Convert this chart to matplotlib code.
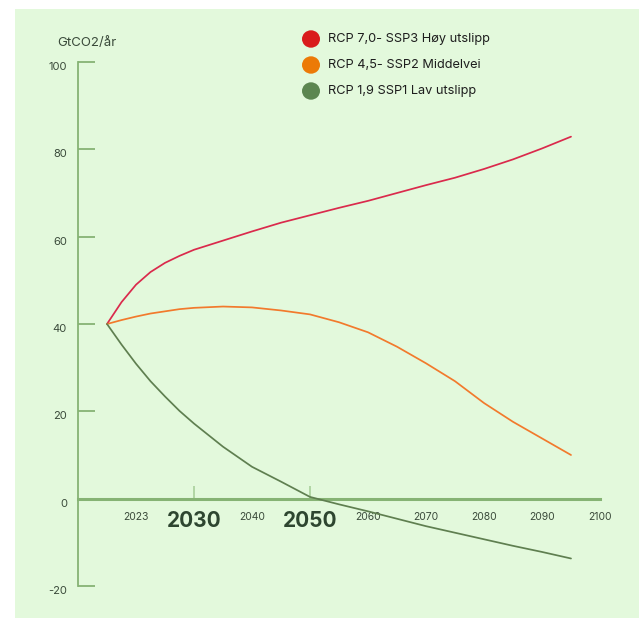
import matplotlib
matplotlib.use("Agg")
import matplotlib.pyplot as plt
from matplotlib.patches import Rectangle, Circle

plt.rcParams['font.family'] = ['Inter', 'DejaVu Sans']

years = [2015, 2017.5, 2020, 2022.5, 2025, 2027.5, 2030, 2035, 2040, 2045, 2050, 2055, 2060,
         2065, 2070, 2075, 2080, 2085, 2090, 2095]
rcp70 = [40, 45.0, 49.0, 51.9, 54.0, 55.6, 57.0, 59.1, 61.2, 63.2, 64.9, 66.6, 68.2,
         70.0, 71.8, 73.5, 75.5, 77.7, 80.2, 82.9]
rcp45 = [40, 40.9, 41.7, 42.4, 42.9, 43.4, 43.7, 44.0, 43.8, 43.1, 42.2, 40.4, 38.1,
         34.8, 31.0, 26.9, 21.9, 17.6, 13.8, 10.0]
rcp19 = [40, 35.3, 30.9, 26.9, 23.4, 20.1, 17.2, 11.9, 7.3, 3.9, 0.4, -1.3, -2.9,
         -4.6, -6.3, -7.8, -9.3, -10.8, -12.2, -13.7]

series_names = ["RCP 7,0- SSP3 Høy utslipp", "RCP 4,5- SSP2 Middelvei", "RCP 1,9 SSP1 Lav utslipp"]
line_colors = ["#DA2A4C", "#F27A2C", "#5F7F50"]
legend_colors = ["#D91C1C", "#EC7A07", "#5C8650"]

x_tick_pos = [2020, 2030, 2040, 2050, 2060, 2070, 2080, 2090, 2100]
x_tick_labels = ["2023", "2030", "2040", "2050", "2060", "2070", "2080", "2090", "2100"]
x_bold = ["2030", "2050"]
y_ticks = [-20, 0, 20, 40, 60, 80, 100]
y_label = "GtCO2/år"

W, H = 639, 618
fig = plt.figure(figsize=(W / 100, H / 100), dpi=100)
fig.patch.set_facecolor("white")
bg = "#E3F9DC"
fig.patches.append(Rectangle((15 / W, 0), 1 - 15 / W, 1 - 9 / H, transform=fig.transFigure,
                             facecolor=bg, edgecolor="none", zorder=-10))

ax = fig.add_axes([78 / W, 1 - 586 / H, (600 - 78) / W, (586 - 62) / H])
ax.set_zorder(5)
ax.set_facecolor("none")
ax.patch.set_alpha(0)
ax.set_xlim(2010, 2100)
ax.set_ylim(-20, 100)

axis_col = "#86B374"
text_col = "#3A4A3A"
for s in ["top", "right"]:
    ax.spines[s].set_visible(False)
ax.spines["left"].set_color(axis_col)
ax.spines["left"].set_linewidth(1.3)
ax.spines["bottom"].set_position(("data", 0))
ax.spines["bottom"].set_color(axis_col)
ax.spines["bottom"].set_linewidth(2.2)

ax.set_yticks(y_ticks)
ax.set_yticklabels([str(v) for v in y_ticks])
ax.tick_params(axis="y", direction="in", length=12, width=1.3, color=axis_col,
               labelcolor=text_col, labelsize=8, pad=8)
for t in ax.get_yticklabels():
    t.set_va("top")
    t.set_y(t.get_position()[1])
ax.set_xticks([])

for pos, lab in zip(x_tick_pos, x_tick_labels):
    if lab in x_bold:
        ax.vlines(pos, 0, 3, color="#A9D09A", lw=1.2, zorder=1)
        ax.annotate(lab, (pos, 0), xytext=(0, -16), textcoords="offset points",
                    ha="center", va="center", fontsize=15, fontweight="bold", color="#2E4630")
    else:
        ax.annotate(lab, (pos, 0), xytext=(0, -13), textcoords="offset points",
                    ha="center", va="center", fontsize=7.5, color=text_col)

for vals, c in zip([rcp70, rcp45, rcp19], line_colors):
    ax.plot(years, vals, color=c, lw=1.25, zorder=3, solid_capstyle="round")

fig.text(57 / W, 1 - 43 / H, y_label, ha="left", va="center", fontsize=9.5, color=text_col)

for i, (name, c) in enumerate(zip(series_names, legend_colors)):
    yc = 1 - (39 + 26 * i) / H
    fig.patches.append(Circle((311 / W, yc), 9 / W, transform=fig.transFigure,
                              facecolor=c, edgecolor="none"))
    fig.text(328 / W, yc, name, ha="left", va="center", fontsize=9.2, color="#1E1E1E")

fig.savefig("out.png", dpi=100)
